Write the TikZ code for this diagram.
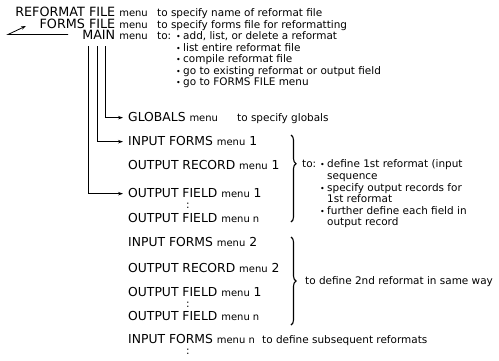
\documentclass[tikz,border=0pt]{standalone}
\usepackage{fontspec}
\setmainfont{DejaVu Sans}
\usetikzlibrary{arrows.meta,decorations.pathreplacing}
\newcommand{\mnu}{{\fontsize{10}{12}\selectfont menu}}
\newcommand{\mnn}{{\fontsize{10}{12}\selectfont menu n}}
\newcommand{\bul}{\makebox[7bp][l]{\fontsize{8}{8}\selectfont •}}
\begin{document}
\begin{tikzpicture}[x=1bp,y=-1bp,
  capt/.style={inner sep=0pt, font=\fontsize{12.4}{14}\selectfont, text height=8.5bp, text depth=0.8bp},
  capr/.style={capt, anchor=base east, font=\fontsize{12.8}{14}\selectfont},
  capl/.style={capt, anchor=base west},
  desc/.style={inner sep=0pt, font=\fontsize{10.5}{12}\selectfont, anchor=base west, text height=7.4bp, text depth=2bp},
  dots/.style={inner sep=0pt, font=\fontsize{10.5}{12}\selectfont},
  conn/.style={line width=0.8bp},
  arr/.style={conn, -{Stealth[length=5bp,width=3.5bp]}},
  brc/.style={line width=1.1bp, decorate}]
\useasboundingbox (0,0) rectangle (499,360);
% top block
\node[capr] (rf) at (148,16.5) {REFORMAT FILE \mnu};
\node[capr] (ff) at (148,28) {FORMS FILE \mnu};
\node[capr] (mn) at (148,39.5) {MAIN \mnu};
\node[desc] (rfd) at (157,16.5) {to specify name of reformat file};
\node[desc] (ffd) at (157,28) {to specify forms file for reformatting};
\node[desc] (mnto) at (157,39.5) {to:};
\node[desc] (b1) at (176,39.5) {\bul add, list, or delete a reformat};
\node[desc] (b2) at (176,51) {\bul list entire reformat file};
\node[desc] (b3) at (176,62.5) {\bul compile reformat file};
\node[desc] (b4) at (176,74) {\bul go to existing reformat or output field};
\node[desc] (b5) at (176,85.5) {\bul go to FORMS FILE menu};
% left return arrow
\coordinate (lstart) at (68,34.5);
\coordinate (lcorner) at (8,34.5);
\coordinate (ltip) at (26,26);
\draw[arr] (lstart) -- (lcorner) -- (ltip);
% rows
\node[capl] (gl) at (128,121.5) {GLOBALS \mnu};
\node[desc] (gld) at (237,121.5) {to specify globals};
\node[capl] (if1) at (128,145.5) {INPUT FORMS \mnu\ 1};
\node[capl] (or1) at (128,169.5) {OUTPUT RECORD \mnu\ 1};
\node[capl] (of1) at (128,197.5) {OUTPUT FIELD \mnu\ 1};
\node[dots] (d1) at (188,205.5) {:};
\node[capl] (ofn) at (128,222.5) {OUTPUT FIELD \mnn};
\node[capl] (if2) at (128,246.5) {INPUT FORMS \mnu\ 2};
\node[capl] (or2) at (128,272.5) {OUTPUT RECORD \mnu\ 2};
\node[capl] (of1b) at (128,296.5) {OUTPUT FIELD \mnu\ 1};
\node[dots] (d2) at (188,304.5) {:};
\node[capl] (ofnb) at (128,320.5) {OUTPUT FIELD \mnn};
\node[capl] (ifn) at (128,343.5) {INPUT FORMS \mnn};
\node[desc] (ifnd) at (262,343.5) {to define subsequent reformats};
\node[dots] (d3) at (188,352) {:};
% connectors from MAIN menu
\coordinate (v1) at (105,46);
\coordinate (v2) at (97,46);
\coordinate (v3) at (88,46);
\draw[arr] (v1) |- ([xshift=-5bp]gl.west);
\draw[arr] (v2) |- ([xshift=-5bp]if1.west);
\draw[arr] (v3) |- ([xshift=-5bp]of1.west);
% braces
\coordinate (br1t) at (291,135);
\coordinate (br1b) at (291,222);
\draw[brc, decoration={brace, amplitude=5bp, aspect=0.33}] (br1t) -- (br1b);
\node[desc] (to1) at (302,167.5) {to:};
\node[desc] (c1) at (320,167.5) {\bul define 1st reformat (input};
\node[desc] (c1b) at (327,179) {sequence};
\node[desc] (c2) at (320,191) {\bul specify output records for};
\node[desc] (c2b) at (327,202.5) {1st reformat};
\node[desc] (c3) at (320,214) {\bul further define each field in};
\node[desc] (c3b) at (327,225.5) {output record};
\coordinate (br2t) at (291,237);
\coordinate (br2b) at (291,325);
\draw[brc, decoration={brace, amplitude=5bp}] (br2t) -- (br2b);
\node[desc] (to2) at (305,284.5) {to define 2nd reformat in same way};
\end{tikzpicture}
\end{document}
